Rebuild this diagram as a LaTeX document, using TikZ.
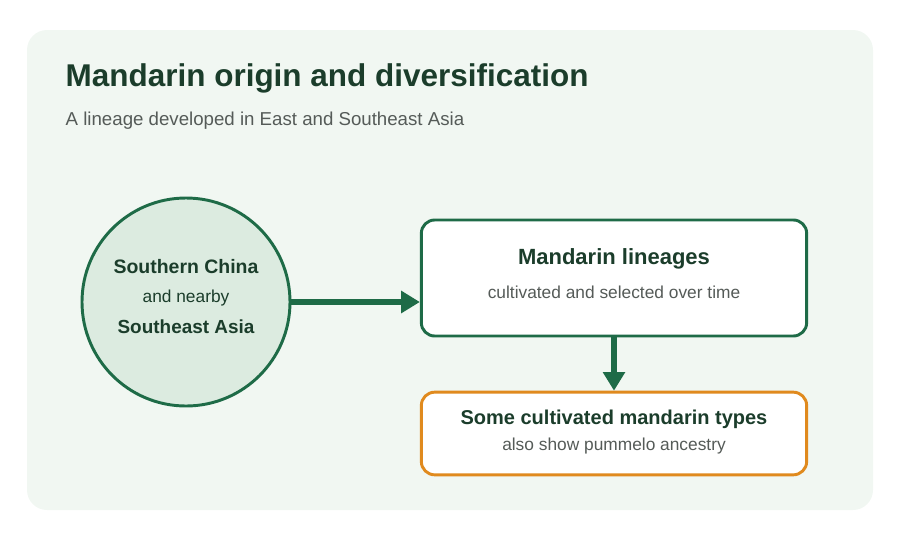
\documentclass[tikz,border=0pt]{standalone}
\usepackage{fontspec}
\setmainfont{Liberation Sans}
\usetikzlibrary{arrows.meta}
\definecolor{bgp}{HTML}{F1F7F2}
\definecolor{dg}{HTML}{1B3D2B}
\definecolor{gs}{HTML}{1E6B47}
\definecolor{cf}{HTML}{DCEBE0}
\definecolor{og}{HTML}{E08A1E}
\definecolor{gt}{HTML}{555B58}
\tikzset{
 px/.style={x=0.75pt,y=-0.75pt},
 box/.style={draw=gs,line width=2.2pt,fill=white,rounded corners=10pt},
 conn/.style={draw=gs,line width=3.8pt,-{Triangle[length=14pt,width=16pt]}},
}
\begin{document}
\begin{tikzpicture}[px]
\useasboundingbox (0,0) rectangle (900,540);
\fill[bgp,rounded corners=15pt] (27,30) rectangle (873,510);
\node[anchor=west,text=dg,font=\bfseries\fontsize{23.6}{28}\selectfont] (title) at (61,78) {Mandarin origin and diversification};
\node[anchor=west,text=gt,font=\fontsize{14}{17}\selectfont] (sub) at (61,121) {A lineage developed in East and Southeast Asia};
\node[circle,draw=gs,line width=2.2pt,fill=cf,minimum size=156pt,inner sep=0pt] (c) at (186,302) {};
\node[text=dg,font=\bfseries\fontsize{14.6}{17}\selectfont] (c1) at (186,267) {Southern China};
\node[text=dg,font=\fontsize{13}{15}\selectfont] (c2) at (186,298) {and nearby};
\node[text=dg,font=\bfseries\fontsize{14.2}{17}\selectfont] (c3) at (186,327) {Southeast Asia};
\node[box,minimum width=289pt,minimum height=87pt] (b1) at (614,278) {};
\node[text=dg,font=\bfseries\fontsize{16.5}{19}\selectfont] (b1t) at (614,259) {Mandarin lineages};
\node[text=gt,font=\fontsize{13}{15}\selectfont] (b1s) at (614,292) {cultivated and selected over time};
\node[box,draw=og,minimum width=289pt,minimum height=62pt] (b2) at (614,433.5) {};
\node[text=dg,font=\bfseries\fontsize{15}{18}\selectfont] (b2t) at (614,419) {Some cultivated mandarin types};
\node[text=gt,font=\fontsize{13}{15}\selectfont] (b2s) at (614,446) {also show pummelo ancestry};
\draw[conn] (c.east) -- (c.east -| b1.west);
\draw[conn] (b1.south) -- (b2.north);
\end{tikzpicture}
\end{document}
